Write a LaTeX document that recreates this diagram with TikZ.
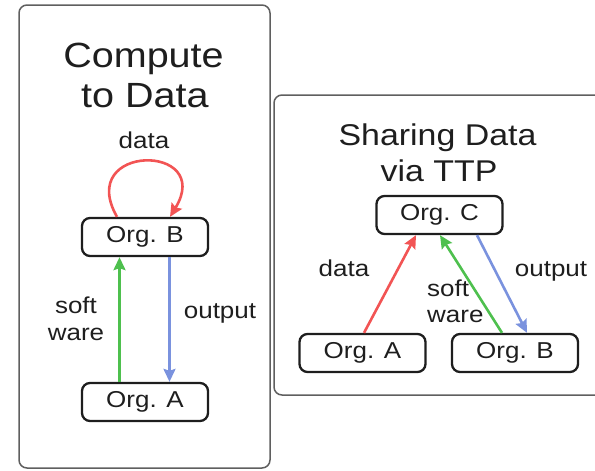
\documentclass[tikz,border=0pt]{standalone}
\usepackage{fontspec}
\setmainfont[FakeStretch=1.13]{Liberation Sans}
\usetikzlibrary{arrows.meta}
\definecolor{redA}{RGB}{242,84,84}
\definecolor{greenA}{RGB}{78,192,78}
\definecolor{blueA}{RGB}{122,146,222}
\definecolor{inkA}{RGB}{30,30,30}
\definecolor{frameA}{RGB}{95,95,95}
\tikzset{
  panel/.style={draw=frameA, line width=1.5pt, rounded corners=8pt},
  org/.style={draw=inkA, line width=2.3pt, rounded corners=8pt, minimum width=126pt, minimum height=38pt, inner sep=0pt, text=inkA, font=\fontsize{23}{27}\selectfont},
  ttl/.style={anchor=base, inner sep=0pt, text=inkA, font=\fontsize{35}{40}\selectfont},
  ttlb/.style={anchor=base, inner sep=0pt, text=inkA, font=\fontsize{30}{35}\selectfont},
  lbl/.style={anchor=base, inner sep=0pt, text=inkA, font=\fontsize{23}{27}\selectfont},
  arr/.style={line width=2.6pt, -{Stealth[length=13pt,width=12pt,inset=2pt]}},
}
\begin{document}
\begin{tikzpicture}[x=1pt,y=-1pt]
\useasboundingbox (0,0) rectangle (595,471);
% panels
\draw[panel] (19,5) rectangle (270,468);
\draw[panel] (274,95) rectangle (610,395);
% left panel
\node[ttl] (t1) at (143.5,67) {Compute};
\node[ttl] (t2) at (145,107) {to Data};
\node[lbl] (ld) at (144,148) {data};
\node[org] (lB) at (145,237) {Org. B};
\node[org] (lA) at (145,402) {Org. A};
\node[lbl] (ls1) at (76,313) {soft};
\node[lbl] (ls2) at (76,340) {ware};
\node[lbl] (lo) at (220,318) {output};
\draw[arr, redA] ([xshift=-28pt]lB.north) .. controls (75,143) and (215,143) .. ([xshift=25pt]lB.north);
\draw[arr, greenA] ([xshift=-25.5pt]lA.north) -- ([xshift=-25.5pt]lB.south);
\draw[arr, blueA] ([xshift=24.5pt]lB.south) -- ([xshift=24.5pt]lA.north);
% right panel
\node[ttlb] (r1) at (437.5,145) {Sharing Data};
\node[ttlb] (r2) at (439,181) {via TTP};
\node[org] (rC) at (439.5,215) {Org. C};
\node[org] (rA) at (362.5,353) {Org. A};
\node[org] (rB) at (515,353) {Org. B};
\node[lbl] (rd) at (344,276) {data};
\node[lbl, anchor=base west] (rs1) at (427,296) {soft};
\node[lbl, anchor=base west] (rs2) at (427,322) {ware};
\node[lbl] (ro) at (551,276) {output};
\draw[arr, redA] ([xshift=1.5pt]rA.north) -- ([xshift=-23.5pt]rC.south);
\draw[arr, greenA] ([xshift=-13pt]rB.north) -- ([xshift=0.5pt]rC.south);
\draw[arr, blueA] ([xshift=37.5pt]rC.south) -- ([xshift=12pt]rB.north);
\end{tikzpicture}
\end{document}
